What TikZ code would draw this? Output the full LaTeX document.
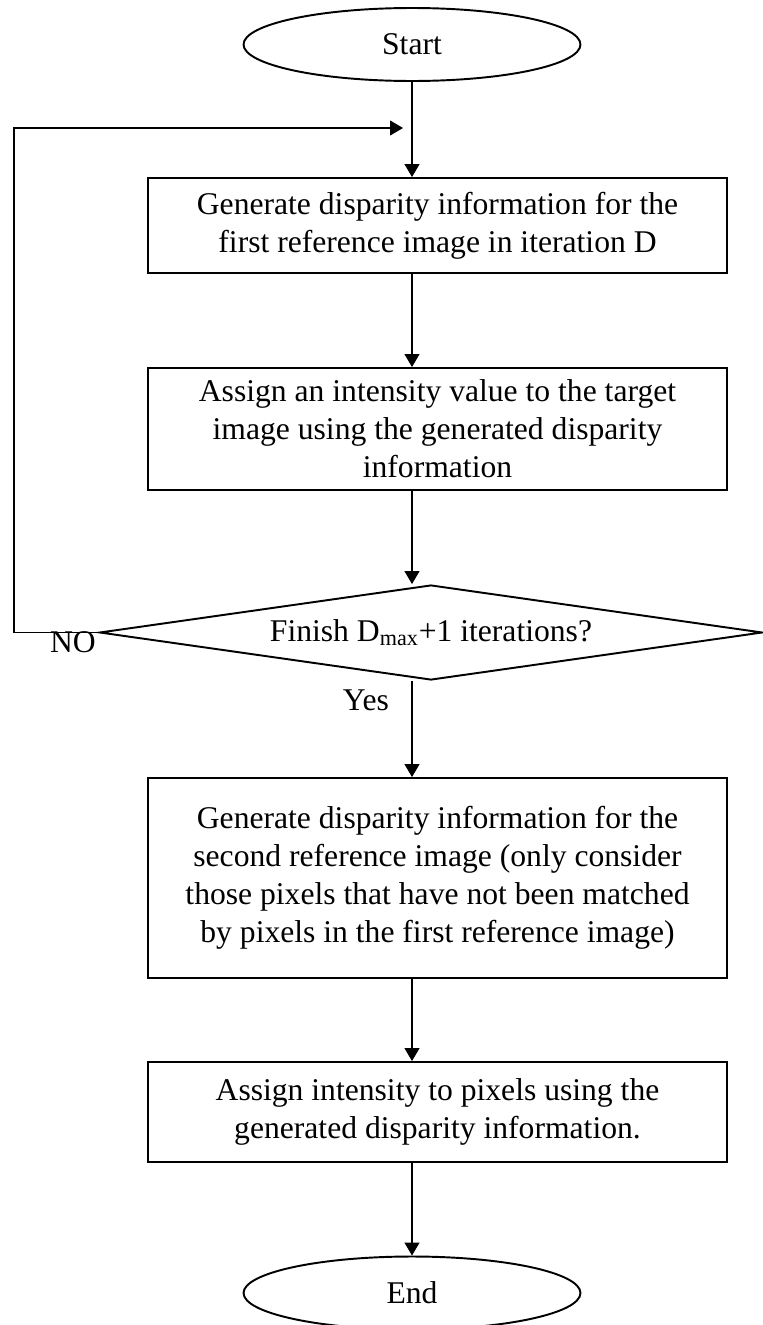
\documentclass[tikz,border=0pt]{standalone}
\usepackage{fontspec}
\setmainfont{Liberation Serif}
\usetikzlibrary{shapes.geometric,arrows.meta}

\begin{document}
\begin{tikzpicture}[x=0.02cm,y=-0.02cm,font=\fontsize{18}{21.6}\selectfont,
    terminal/.style={draw,ellipse,line width=1.1pt,minimum width=6.74cm,minimum height=1.46cm,inner sep=0pt},
    etape/.style={draw,rectangle,line width=1.1pt,minimum width=11.58cm,align=center,inner sep=0pt},
    test/.style={draw,diamond,aspect=7,line width=1.1pt,minimum width=13.26cm,minimum height=1.9cm,inner sep=0pt},
    fleche/.style={line width=0.6pt,-{Triangle[length=0.26cm,width=0.3cm]}}]
    \useasboundingbox (0,0) rectangle (763,1325);
    \node[terminal] (debut) at (412,44.5) {Start};
    \node[etape,minimum height=1.9cm] (disp1) at (437.5,225.5) {Generate disparity information for the\\first reference image in iteration D};
    \node[etape,minimum height=2.44cm] (intens1) at (437.5,429) {Assign an intensity value to the target\\image using the generated disparity\\information};
    \node[test] (fini) at (431,632.5) {Finish D\textsubscript{max}+1 iterations?};
    \node (non) at (73,642) {NO};
    \node (oui) at (366,700) {Yes};
    \node[etape,minimum height=4cm] (disp2) at (437.5,878) {Generate disparity information for the\\second reference image (only consider\\those pixels that have not been matched\\by pixels in the first reference image)};
    \node[etape,minimum height=2cm] (intens2) at (437.5,1112) {Assign intensity to pixels using the\\generated disparity information.};
    \node[terminal] (fin) at (412,1293) {End};
    \coordinate (coin) at (14,128);
    \coordinate (retour) at (403,128);
    \draw[fleche] (debut.south) -- (disp1.north -| debut);
    \draw[fleche] (disp1.south -| debut) -- (intens1.north -| debut);
    \draw[fleche] (intens1.south -| debut) -- (fini.north -| debut);
    \draw[fleche] (fini.south -| debut) -- (disp2.north -| debut);
    \draw[fleche] (disp2.south -| debut) -- (intens2.north -| debut);
    \draw[fleche] (intens2.south -| debut) -- (fin.north);
    \draw[fleche] (fini.west) -| (coin) -- (retour);
\end{tikzpicture}
\end{document}
